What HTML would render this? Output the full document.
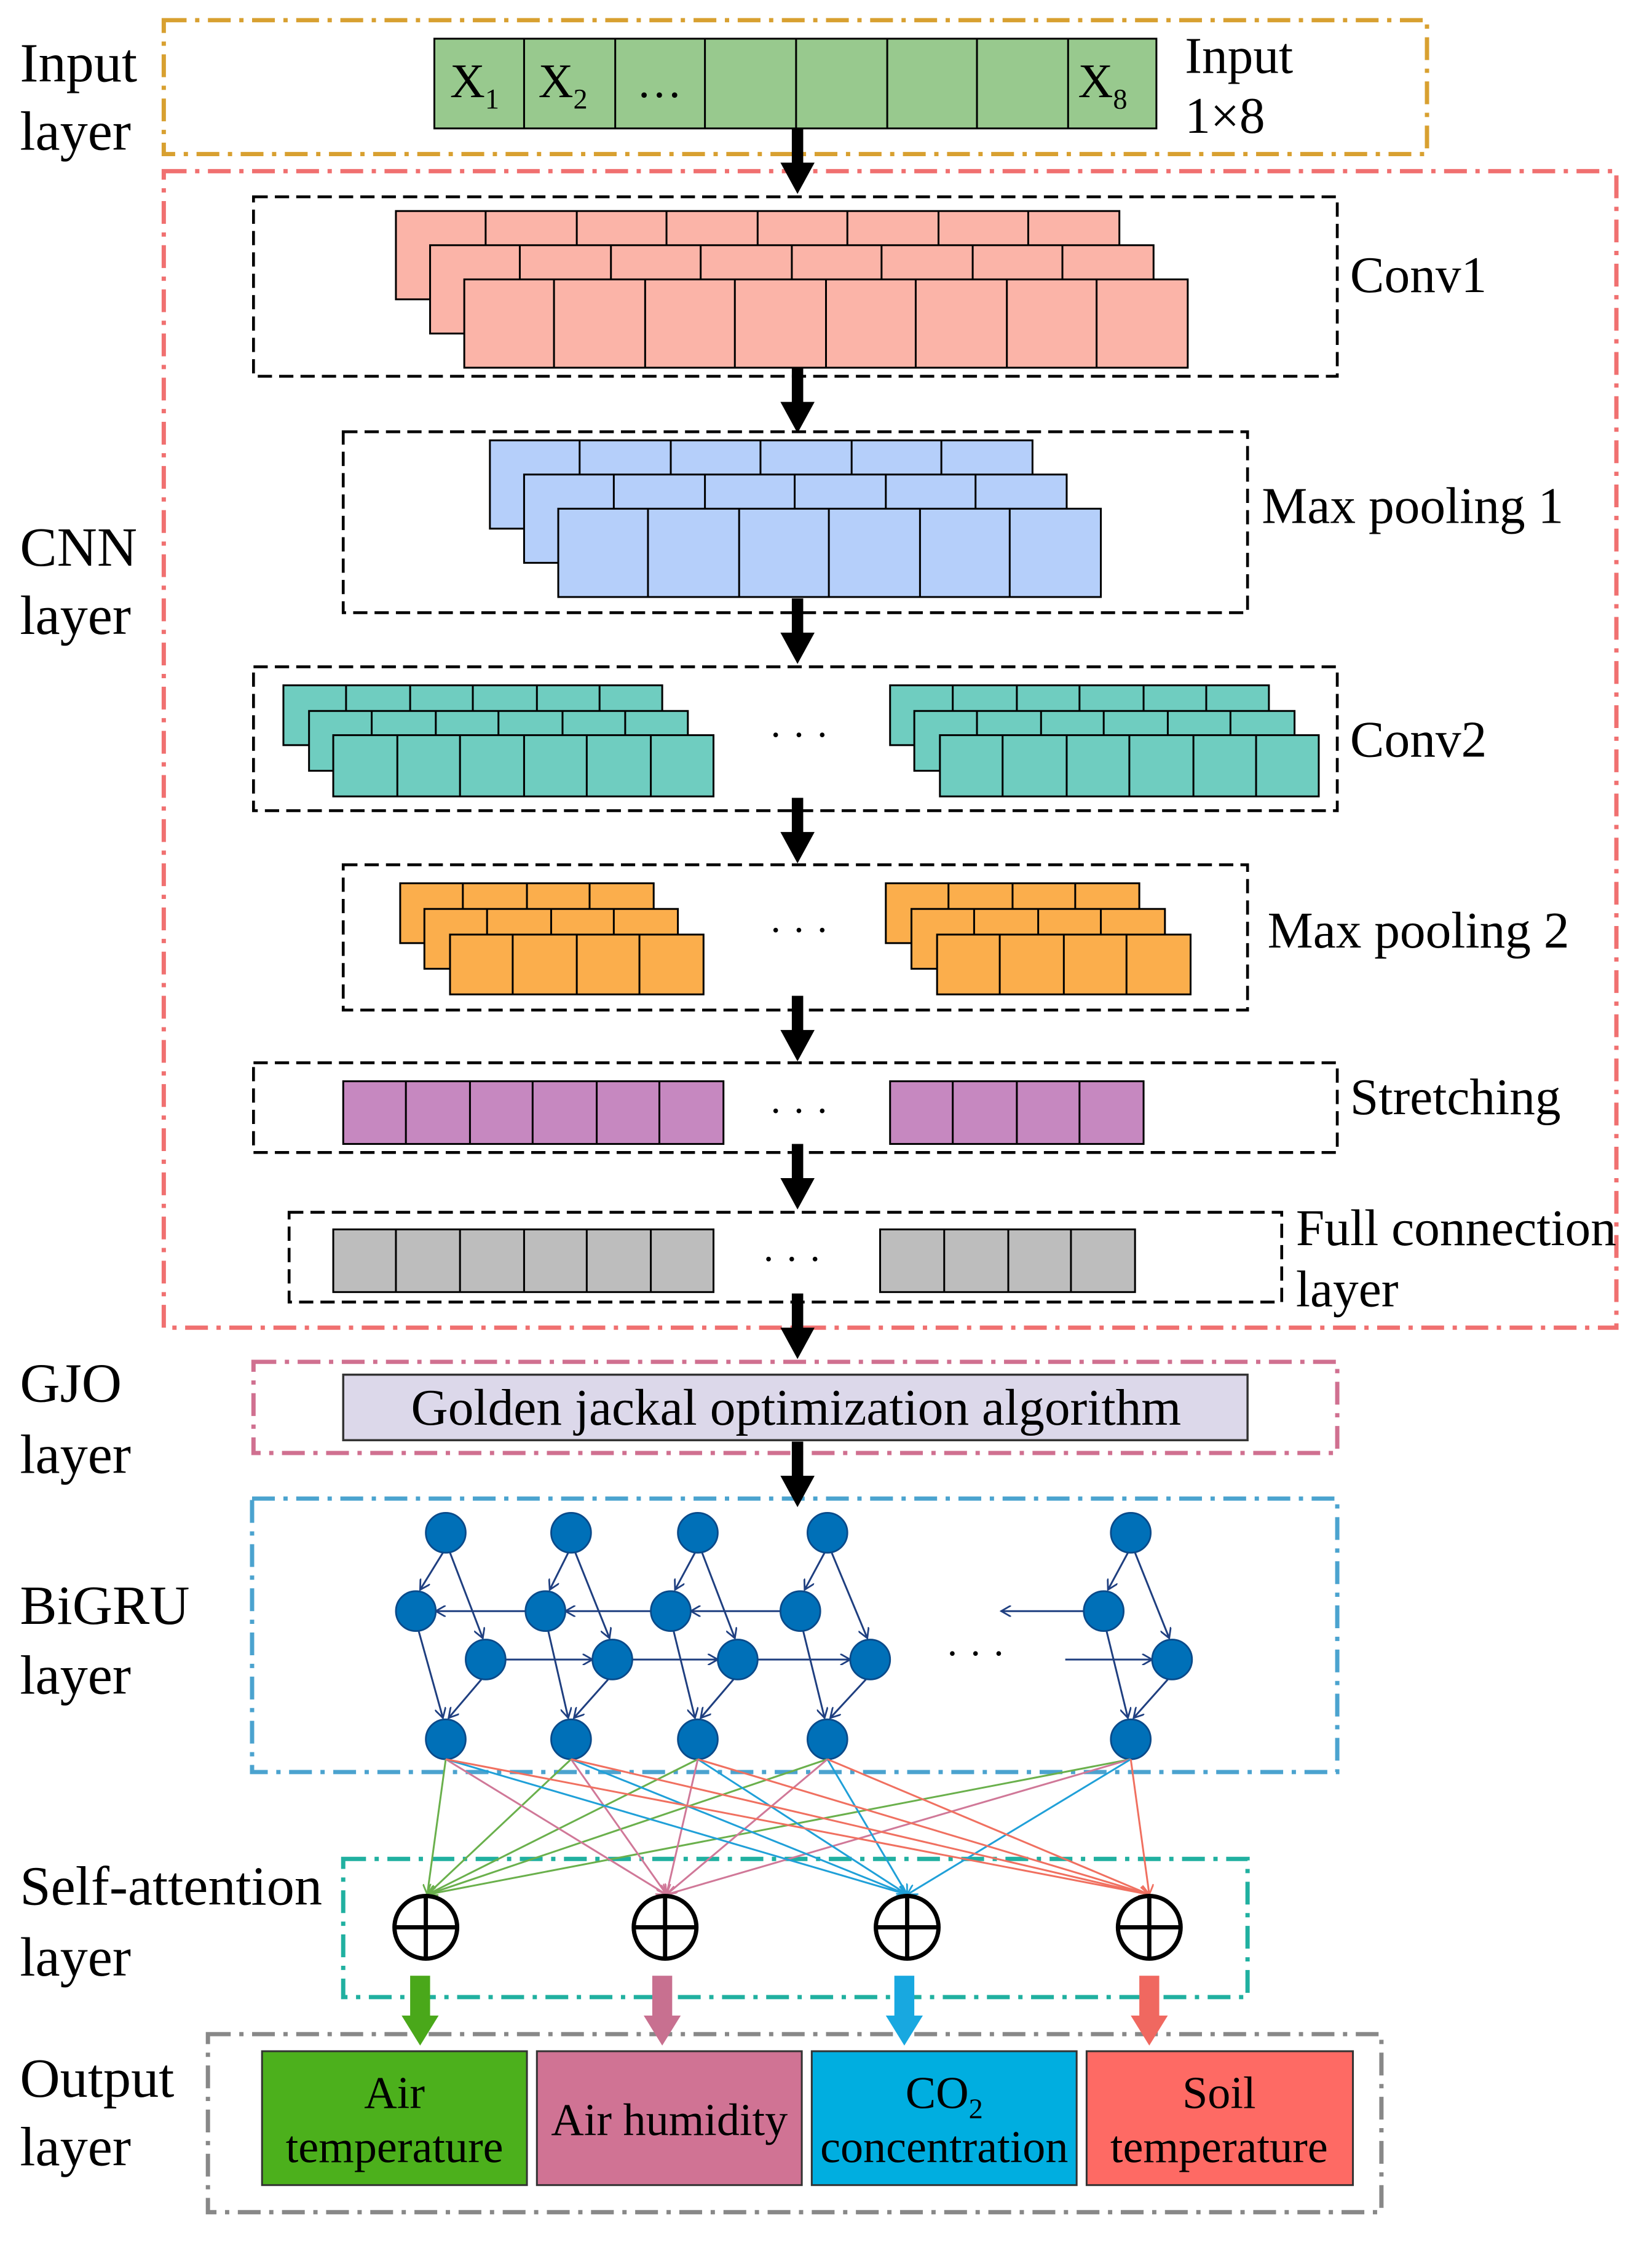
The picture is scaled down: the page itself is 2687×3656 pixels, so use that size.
<!DOCTYPE html>
<html><head><meta charset="utf-8"><style>html,body{margin:0;padding:0;background:#fff}svg{display:block}text{font-family:"Liberation Serif",serif}</style></head>
<body>
<svg width="2687" height="3656" viewBox="0 0 1160 1578" xmlns="http://www.w3.org/2000/svg">
<defs>
<marker id="ah" markerWidth="8" markerHeight="8" refX="7" refY="4" orient="auto" markerUnits="userSpaceOnUse"><path d="M0,0 L7,4 L0,8" fill="none" stroke="#1f3f80" stroke-width="1.2"/></marker>
<marker id="ag" markerWidth="8" markerHeight="8" refX="7" refY="4" orient="auto" markerUnits="userSpaceOnUse"><path d="M0,0 L7,4 L0,8" fill="none" stroke="#6ab04c" stroke-width="1.2"/></marker>
<marker id="ap" markerWidth="8" markerHeight="8" refX="7" refY="4" orient="auto" markerUnits="userSpaceOnUse"><path d="M0,0 L7,4 L0,8" fill="none" stroke="#d07898" stroke-width="1.2"/></marker>
<marker id="ab" markerWidth="8" markerHeight="8" refX="7" refY="4" orient="auto" markerUnits="userSpaceOnUse"><path d="M0,0 L7,4 L0,8" fill="none" stroke="#20a0d8" stroke-width="1.2"/></marker>
<marker id="ar" markerWidth="8" markerHeight="8" refX="7" refY="4" orient="auto" markerUnits="userSpaceOnUse"><path d="M0,0 L7,4 L0,8" fill="none" stroke="#f07060" stroke-width="1.2"/></marker>
<g id="ba"><rect x="556" y="0" width="8" height="26"/><path d="M548,24 L572,24 L560,46 Z"/></g>
</defs>
<g font-size="39" fill="#000">
<text x="14" y="57">Input</text><text x="14" y="105">layer</text>
<text x="14" y="397">CNN</text><text x="14" y="445">layer</text>
<text x="14" y="984">GJO</text><text x="14" y="1034">layer</text>
<text x="14" y="1140">BiGRU</text><text x="14" y="1189">layer</text>
<text x="14" y="1337">Self-attention</text><text x="14" y="1387">layer</text>
<text x="14" y="1472">Output</text><text x="14" y="1520">layer</text>
</g>
<g fill="none" stroke-width="3" stroke-dasharray="16,6,3,6">
<rect x="115" y="14" width="887" height="94" stroke="#d8a030"/>
<rect x="115" y="120" width="1020" height="812" stroke="#f07070"/>
<rect x="178" y="956" width="761" height="64" stroke="#d07090"/>
<rect x="177" y="1052" width="762" height="192" stroke="#4ba3cf"/>
<rect x="241" y="1305" width="635" height="97" stroke="#20b0a0"/>
<rect x="146" y="1428" width="824" height="125" stroke="#888"/>
</g>
<g fill="none" stroke="#000" stroke-width="2" stroke-dasharray="10,5">
<rect x="178" y="138" width="761" height="126"/>
<rect x="241" y="303" width="635" height="127"/>
<rect x="178" y="468" width="761" height="101"/>
<rect x="241" y="607" width="635" height="102"/>
<rect x="178" y="746" width="761" height="63"/>
<rect x="203" y="851" width="697" height="63"/>
</g>
<g stroke="#000" stroke-width="1.3">
<g fill="#98c98e"><rect x="305" y="27" width="507" height="63"/>
<path d="M368,27V90M432,27V90M495,27V90M559,27V90M623,27V90M686,27V90M750,27V90"/></g>
<g fill="#fbb4a8">
<rect x="278" y="148" width="508" height="62"/><path d="M341,148V210M405,148V210M468,148V210M532,148V210M595,148V210M659,148V210M722,148V210"/>
<rect x="302" y="172" width="508" height="62"/><path d="M365,172V234M429,172V234M492,172V234M556,172V234M619,172V234M683,172V234M746,172V234"/>
<rect x="326" y="196" width="508" height="62"/><path d="M389,196V258M453,196V258M516,196V258M580,196V258M643,196V258M707,196V258M770,196V258"/>
</g>
<g fill="#b5cffa">
<rect x="344" y="309" width="381" height="62"/><path d="M407,309V371M471,309V371M534,309V371M598,309V371M661,309V371"/>
<rect x="368" y="333" width="381" height="62"/><path d="M431,333V395M495,333V395M558,333V395M622,333V395M685,333V395"/>
<rect x="392" y="357" width="381" height="62"/><path d="M455,357V419M519,357V419M582,357V419M646,357V419M709,357V419"/>
</g>
</g>
<g stroke="#000" stroke-width="1.3" fill="#6fcdc0">
<rect x="199" y="481" width="266" height="42"/><rect x="217" y="499" width="266" height="42"/><rect x="234" y="516" width="267" height="43"/>
<rect x="625" y="481" width="266" height="42"/><rect x="642" y="499" width="267" height="42"/><rect x="660" y="516" width="266" height="43"/>
<path d="M243,481V499M288,481V499M332,481V499M377,481V499M421,481V499 M261,499V516M306,499V516M350,499V516M395,499V516M439,499V516 M279,516V559M323,516V559M368,516V559M412,516V559M457,516V559"/>
<path d="M669,481V499M714,481V499M758,481V499M803,481V499M847,481V499 M686,499V516M731,499V516M775,499V516M820,499V516M864,499V516 M704,516V559M749,516V559M793,516V559M838,516V559M882,516V559"/>
</g>
<g stroke="#000" stroke-width="1.3" fill="#fbae4c">
<rect x="281" y="620" width="178" height="42"/><rect x="298" y="638" width="178" height="42"/><rect x="316" y="656" width="178" height="42"/>
<rect x="622" y="620" width="178" height="42"/><rect x="640" y="638" width="178" height="42"/><rect x="658" y="656" width="178" height="42"/>
<path d="M325,620V638M370,620V638M414,620V638 M342,638V656M387,638V656M431,638V656 M360,656V698M405,656V698M449,656V698"/>
<path d="M666,620V638M711,620V638M755,620V638 M684,638V656M729,638V656M773,638V656 M702,656V698M747,656V698M791,656V698"/>
</g>
<g stroke="#000" stroke-width="1.3" fill="#c688c0">
<rect x="241" y="759" width="267" height="44"/><rect x="625" y="759" width="178" height="44"/>
<path d="M285,759V803M330,759V803M374,759V803M419,759V803M463,759V803M669,759V803M714,759V803M758,759V803"/>
</g>
<g stroke="#000" stroke-width="1.3" fill="#bdbdbd">
<rect x="234" y="863" width="267" height="44"/><rect x="618" y="863" width="179" height="44"/>
<path d="M278,863V907M323,863V907M368,863V907M412,863V907M457,863V907M663,863V907M708,863V907M752,863V907"/>
</g>
<g font-size="36">
<text x="316" y="68" font-size="34">X<tspan font-size="20" dy="8">1</tspan></text>
<text x="378" y="68" font-size="34">X<tspan font-size="20" dy="8">2</tspan></text>
<text x="447" y="68" font-size="32">…</text>
<text x="757" y="68" font-size="34">X<tspan font-size="20" dy="8">8</tspan></text>
<text x="832" y="51">Input</text><text x="832" y="93">1×8</text>
<text x="948" y="205">Conv1</text>
<text x="886" y="367">Max pooling 1</text>
<text x="948" y="531">Conv2</text>
<text x="890" y="665">Max pooling 2</text>
<text x="948" y="782">Stretching</text>
<text x="910" y="874">Full connection</text><text x="910" y="917">layer</text>
<text x="540" y="525" font-size="28">· · ·</text>
<text x="540" y="662" font-size="28">· · ·</text>
<text x="540" y="789" font-size="28">· · ·</text>
<text x="535" y="893" font-size="28">· · ·</text>
<text x="664" y="1170" font-size="28">· · ·</text>
</g>
<g fill="#000">
<use href="#ba" transform="translate(0,90)"/>
<use href="#ba" transform="translate(0,258)"/>
<use href="#ba" transform="translate(0,420)"/>
<use href="#ba" transform="translate(0,560)"/>
<use href="#ba" transform="translate(0,699)"/>
<use href="#ba" transform="translate(0,803)"/>
<use href="#ba" transform="translate(0,908)"/>
<use href="#ba" transform="translate(0,1012)"/>
</g>
<rect x="241" y="965" width="635" height="46" fill="#dcd8ea" stroke="#333" stroke-width="1.5"/>
<text x="559" y="1000" font-size="36" text-anchor="middle">Golden jackal optimization algorithm</text>
<g stroke="#1f3f80" stroke-width="1.3" fill="none" marker-end="url(#ah)">
<path d="M311,1090 L295,1116"/><path d="M316,1090 L339,1150"/><path d="M294,1145 L311,1206"/><path d="M338,1179 L315,1206"/>
<path d="M399,1090 L386,1116"/><path d="M404,1090 L428,1150"/><path d="M385,1145 L399,1206"/><path d="M427,1179 L403,1206"/>
<path d="M488,1090 L474,1116"/><path d="M493,1090 L516,1150"/><path d="M473,1145 L488,1206"/><path d="M515,1179 L492,1206"/>
<path d="M579,1090 L565,1116"/><path d="M584,1090 L609,1150"/><path d="M564,1145 L579,1206"/><path d="M608,1179 L583,1206"/>
<path d="M792,1090 L778,1116"/><path d="M797,1090 L821,1150"/><path d="M777,1145 L792,1206"/><path d="M820,1179 L796,1206"/>
<path d="M548,1131 L485,1131"/><path d="M457,1131 L397,1131"/><path d="M369,1131 L306,1131"/><path d="M761,1131 L703,1131"/>
<path d="M355,1165 L416,1165"/><path d="M444,1165 L504,1165"/><path d="M532,1165 L597,1165"/><path d="M748,1165 L809,1165"/>
</g>
<g fill="#0070b8" stroke="#0a4a8a" stroke-width="1.2">
<circle cx="313" cy="1076" r="14"/><circle cx="401" cy="1076" r="14"/><circle cx="490" cy="1076" r="14"/><circle cx="581" cy="1076" r="14"/><circle cx="794" cy="1076" r="14"/>
<circle cx="292" cy="1131" r="14"/><circle cx="383" cy="1131" r="14"/><circle cx="471" cy="1131" r="14"/><circle cx="562" cy="1131" r="14"/><circle cx="775" cy="1131" r="14"/>
<circle cx="341" cy="1165" r="14"/><circle cx="430" cy="1165" r="14"/><circle cx="518" cy="1165" r="14"/><circle cx="611" cy="1165" r="14"/><circle cx="823" cy="1165" r="14"/>
<circle cx="313" cy="1221" r="14"/><circle cx="401" cy="1221" r="14"/><circle cx="490" cy="1221" r="14"/><circle cx="581" cy="1221" r="14"/><circle cx="794" cy="1221" r="14"/>
</g>
<g stroke-width="1.3" fill="none">
<g stroke="#6ab04c" marker-end="url(#ag)"><path d="M313,1235L300,1330"/><path d="M401,1235L300,1330"/><path d="M490,1235L300,1330"/><path d="M581,1235L300,1330"/><path d="M794,1235L300,1330"/></g>
<g stroke="#d07898" marker-end="url(#ap)"><path d="M313,1235L468,1330"/><path d="M401,1235L468,1330"/><path d="M490,1235L468,1330"/><path d="M581,1235L468,1330"/><path d="M794,1235L468,1330"/></g>
<g stroke="#20a0d8" marker-end="url(#ab)"><path d="M313,1235L637,1330"/><path d="M401,1235L637,1330"/><path d="M490,1235L637,1330"/><path d="M581,1235L637,1330"/><path d="M794,1235L637,1330"/></g>
<g stroke="#f07060" marker-end="url(#ar)"><path d="M313,1235L807,1330"/><path d="M401,1235L807,1330"/><path d="M490,1235L807,1330"/><path d="M581,1235L807,1330"/><path d="M794,1235L807,1330"/></g>
</g>
<g fill="none" stroke="#000" stroke-width="3">
<circle cx="299" cy="1353" r="22"/><path d="M277,1353H321M299,1331V1375"/>
<circle cx="467" cy="1353" r="22"/><path d="M445,1353H489M467,1331V1375"/>
<circle cx="637" cy="1353" r="22"/><path d="M615,1353H659M637,1331V1375"/>
<circle cx="807" cy="1353" r="22"/><path d="M785,1353H829M807,1331V1375"/>
</g>
<g><rect x="288" y="1387" width="14" height="30" fill="#4aa81a"/><path d="M282,1415H308L295,1436Z" fill="#4aa81a"/>
<rect x="458" y="1387" width="14" height="30" fill="#c87090"/><path d="M452,1415H478L465,1436Z" fill="#c87090"/>
<rect x="628" y="1387" width="14" height="30" fill="#18a8e0"/><path d="M622,1415H648L635,1436Z" fill="#18a8e0"/>
<rect x="800" y="1387" width="14" height="30" fill="#f06860"/><path d="M794,1415H820L807,1436Z" fill="#f06860"/></g>
<g stroke="#333" stroke-width="1.3">
<rect x="184" y="1440" width="186" height="94" fill="#4cb01c"/>
<rect x="377" y="1440" width="186" height="94" fill="#d07394"/>
<rect x="570" y="1440" width="186" height="94" fill="#00aee0"/>
<rect x="763" y="1440" width="187" height="94" fill="#fe6a64"/>
</g>
<g font-size="32" text-anchor="middle">
<text x="277" y="1480">Air</text><text x="277" y="1518">temperature</text>
<text x="470" y="1499">Air humidity</text>
<text x="663" y="1480">CO<tspan font-size="20" dy="7">2</tspan></text><text x="663" y="1518" dy="0">concentration</text>
<text x="856" y="1480">Soil</text><text x="856" y="1518">temperature</text>
</g>
</svg>
</body></html>
